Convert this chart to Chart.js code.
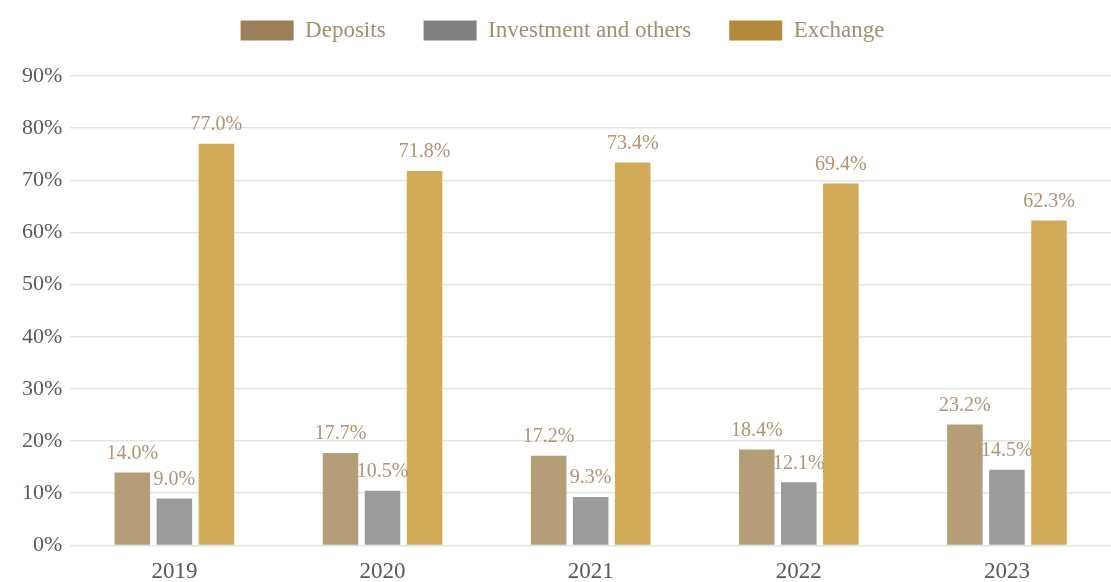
<!DOCTYPE html>
<html lang="en">

<head>
    <meta charset="UTF-8">
    <title>Deposits, Investment and Exchange</title>
    <style>
        html, body {
            margin: 0;
            padding: 0;
            background: #fff;
        }

        .chart-box {
            width: 1111px;
            height: 582px;
        }
    </style>
</head>

<body>
    <div class="chart-box">
        <canvas id="shareChart"></canvas>
    </div>

    <script src="https://cdn.jsdelivr.net/npm/chart.js"></script>
    <script>
        // Datos
        const years = ['2019', '2020', '2021', '2022', '2023'];
        const deposits = [14.0, 17.7, 17.2, 18.4, 23.2];
        const investment = [9.0, 10.5, 9.3, 12.1, 14.5];
        const exchange = [77.0, 71.8, 73.4, 69.4, 62.3];
        const seriesNames = ['Deposits', 'Investment and others', 'Exchange'];
        const yTicks = [0, 10, 20, 30, 40, 50, 60, 70, 80, 90];

        const barColors = ['#b59d78', '#9b9b9b', '#d1aa58'];
        const legendColors = ['#9b7e5a', '#808080', '#b08a38'];
        const serif = "'Liberation Serif', 'DejaVu Serif', serif";

        // Etiquetas de valor encima de cada barra
        const barValueLabels = {
            id: 'barValueLabels',
            afterDatasetsDraw(chart) {
                const ctx = chart.ctx;
                ctx.save();
                ctx.font = '20px ' + serif;
                ctx.fillStyle = '#b09472';
                ctx.textAlign = 'center';
                ctx.textBaseline = 'bottom';
                chart.data.datasets.forEach((ds, i) => {
                    chart.getDatasetMeta(i).data.forEach((bar, j) => {
                        ctx.fillText(ds.data[j].toFixed(1) + '%', bar.x, bar.y - 9);
                    });
                });
                ctx.restore();
            }
        };

        // Espacio extra debajo de la leyenda
        const legendGap = {
            id: 'legendGap',
            beforeInit(chart) {
                const fit = chart.legend.fit;
                chart.legend.fit = function () {
                    fit.bind(chart.legend)();
                    this.height += 24;
                };
            }
        };

        const ctx = document.getElementById('shareChart').getContext('2d');
        new Chart(ctx, {
            type: 'bar',
            data: {
                labels: years,
                datasets: [deposits, investment, exchange].map((values, i) => ({
                    label: seriesNames[i],
                    data: values,
                    backgroundColor: barColors[i],
                    borderWidth: 0,
                    barPercentage: 0.845,
                    categoryPercentage: 0.606
                }))
            },
            options: {
                responsive: true,
                maintainAspectRatio: false,
                animation: false,
                layout: {
                    padding: { top: -19, left: 14, right: 0, bottom: -17 }
                },
                scales: {
                    x: {
                        grid: { display: false, drawTicks: false },
                        border: { display: false },
                        ticks: {
                            color: '#595959',
                            font: { family: serif, size: 23 },
                            padding: 13
                        }
                    },
                    y: {
                        min: 0,
                        max: 90,
                        afterBuildTicks(axis) {
                            axis.ticks = yTicks.map(v => ({ value: v }));
                        },
                        grid: { color: '#e4e4e4', lineWidth: 1.5, drawTicks: false },
                        border: { display: false },
                        ticks: {
                            color: '#595959',
                            font: { family: serif, size: 22 },
                            padding: 8,
                            callback: v => v + '%'
                        }
                    }
                },
                plugins: {
                    legend: {
                        position: 'top',
                        labels: {
                            boxWidth: 53,
                            boxHeight: 20,
                            padding: 38,
                            color: '#a68d6c',
                            font: { family: serif, size: 23 },
                            generateLabels(chart) {
                                return chart.data.datasets.map((ds, i) => ({
                                    text: ds.label,
                                    fillStyle: legendColors[i],
                                    strokeStyle: legendColors[i],
                                    lineWidth: 0,
                                    fontColor: '#a68d6c',
                                    datasetIndex: i,
                                    hidden: !chart.isDatasetVisible(i)
                                }));
                            }
                        }
                    },
                    tooltip: { enabled: false }
                }
            },
            plugins: [barValueLabels, legendGap]
        });
    </script>
</body>

</html>
